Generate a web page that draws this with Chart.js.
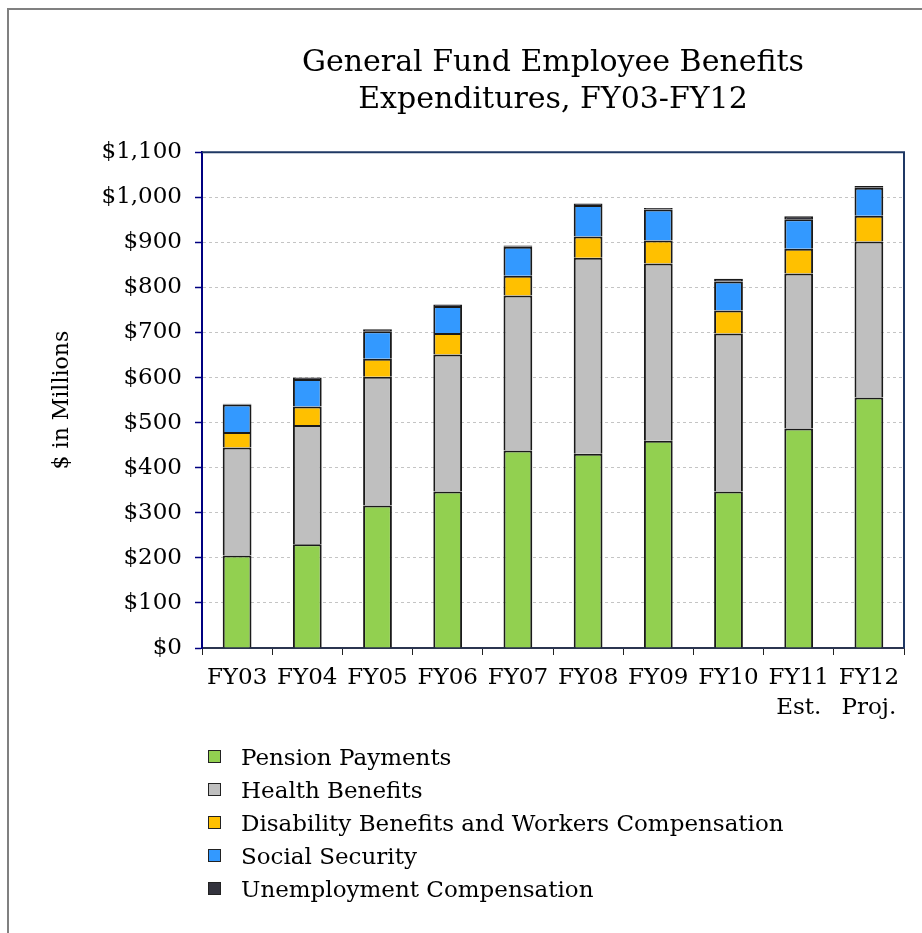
<!DOCTYPE html>
<html>
<head>
<meta charset="utf-8">
<script src="https://cdn.jsdelivr.net/npm/chart.js@4"></script>
<style>
  html, body { margin: 0; padding: 0; background: #fff; }
  #wrap { position: relative; width: 922px; height: 933px; overflow: hidden; }
  #frame { position: absolute; left: 7px; top: 8px; width: 1000px; height: 1000px; border: 2px solid #808080; box-sizing: border-box; }
  #chart { position: absolute; left: 0; top: 0; }
  #legend { position: absolute; left: 208px; top: 740px; font-family: "DejaVu Serif", serif; font-size: 23px; color: #000; }
  .item { height: 33px; display: flex; align-items: center; }
  .box { width: 11px; height: 11px; border: 1px solid #222; margin-right: 20px; }
</style>
</head>
<body>
<div id="wrap">
  <div id="frame"></div>
  <canvas id="chart" width="922" height="933"></canvas>
  <div id="legend"></div>
</div>
<script>
// دسته‌ها و مقادیر (میلیون دلار)
const years = [['FY03'], ['FY04'], ['FY05'], ['FY06'], ['FY07'], ['FY08'], ['FY09'], ['FY10'], ['FY11', 'Est.'], ['FY12', 'Proj.']];
const pension      = [205, 230, 316, 347, 438, 431, 460, 347, 487, 556];
const health       = [240, 265, 286, 304, 344, 435, 393, 351, 344, 346];
const disability   = [34, 41, 40, 48, 44, 47, 51, 51, 55, 57];
const socialSec    = [61, 61, 61, 60, 64, 70, 69, 64, 65, 62];
const unemployment = [2, 3, 4, 3, 3, 3, 3, 6, 7, 4];
const yTicks = [0, 100, 200, 300, 400, 500, 600, 700, 800, 900, 1000, 1100];

const serif = '"DejaVu Serif", serif';

function ds(label, data, color) {
    return { label, data, backgroundColor: color, borderColor: '#1a1a1a', borderWidth: 2,
             barPercentage: 0.82, categoryPercentage: 0.5 };
}

// قاب بالا و راست ناحیه نمودار
const frameLines = {
    id: 'frameLines',
    afterDraw(chart) {
        const a = chart.chartArea, c = chart.ctx;
        c.save();
        c.strokeStyle = '#1f3864';
        c.lineWidth = 2;
        c.beginPath();
        c.moveTo(a.left, a.top);
        c.lineTo(a.right, a.top);
        c.lineTo(a.right, a.bottom);
        c.stroke();
        c.restore();
    }
};

const ctx = document.getElementById('chart').getContext('2d');
const myChart = new Chart(ctx, {
    type: 'bar',
    data: {
        labels: years,
        datasets: [
            ds('Pension Payments', pension, '#92d050'),
            ds('Health Benefits', health, '#bfbfbf'),
            ds('Disability Benefits and Workers Compensation', disability, '#ffc000'),
            ds('Social Security', socialSec, '#3399ff'),
            ds('Unemployment Compensation', unemployment, '#33333d')
        ]
    },
    options: {
        responsive: false,
        animation: false,
        layout: { padding: { left: 0, right: 18, top: 0, bottom: 200 } },
        plugins: {
            legend: { display: false },
            tooltip: { enabled: false },
            title: {
                display: true,
                fullSize: false,
                text: ['General Fund Employee Benefits', 'Expenditures, FY03-FY12'],
                color: '#000',
                font: { family: serif, size: 30, weight: 'normal', lineHeight: 1.22 },
                padding: { top: 45, bottom: 34 }
            }
        },
        scales: {
            x: {
                stacked: true,
                afterFit: s => { s.height = 85; },
                grid: { drawOnChartArea: false, tickLength: 7, color: '#222', offset: true },
                border: { color: '#2b3550', width: 2 },
                ticks: { color: '#000', font: { family: serif, size: 23, lineHeight: 1.3 }, padding: 8, maxRotation: 0, autoSkip: false }
            },
            y: {
                stacked: true,
                min: 0, max: 1100,
                afterFit: s => { s.width = 202; },
                afterBuildTicks: s => { s.ticks = yTicks.map(v => ({ value: v })); },
                grid: { color: '#c4c4c4', tickColor: '#000080', tickBorderDash: [], tickLength: 7, tickWidth: 1.5 },
                border: { color: '#000080', width: 2, dash: [3, 3] },
                ticks: {
                    color: '#000', padding: 13,
                    font: { family: serif, size: 23 },
                    callback: v => '$' + v.toLocaleString('en-US')
                },
                title: {
                    display: true, text: '$ in Millions', color: '#000',
                    font: { family: serif, size: 22 },
                    padding: { top: 49, bottom: 0 }
                }
            }
        }
    },
    plugins: [frameLines]
});

// لیست راهنما
document.getElementById('legend').innerHTML = myChart.data.datasets.map(d => `
    <div class="item"><span class="box" style="background:${d.backgroundColor}"></span>${d.label}</div>
`).join('');
</script>
</body>
</html>
